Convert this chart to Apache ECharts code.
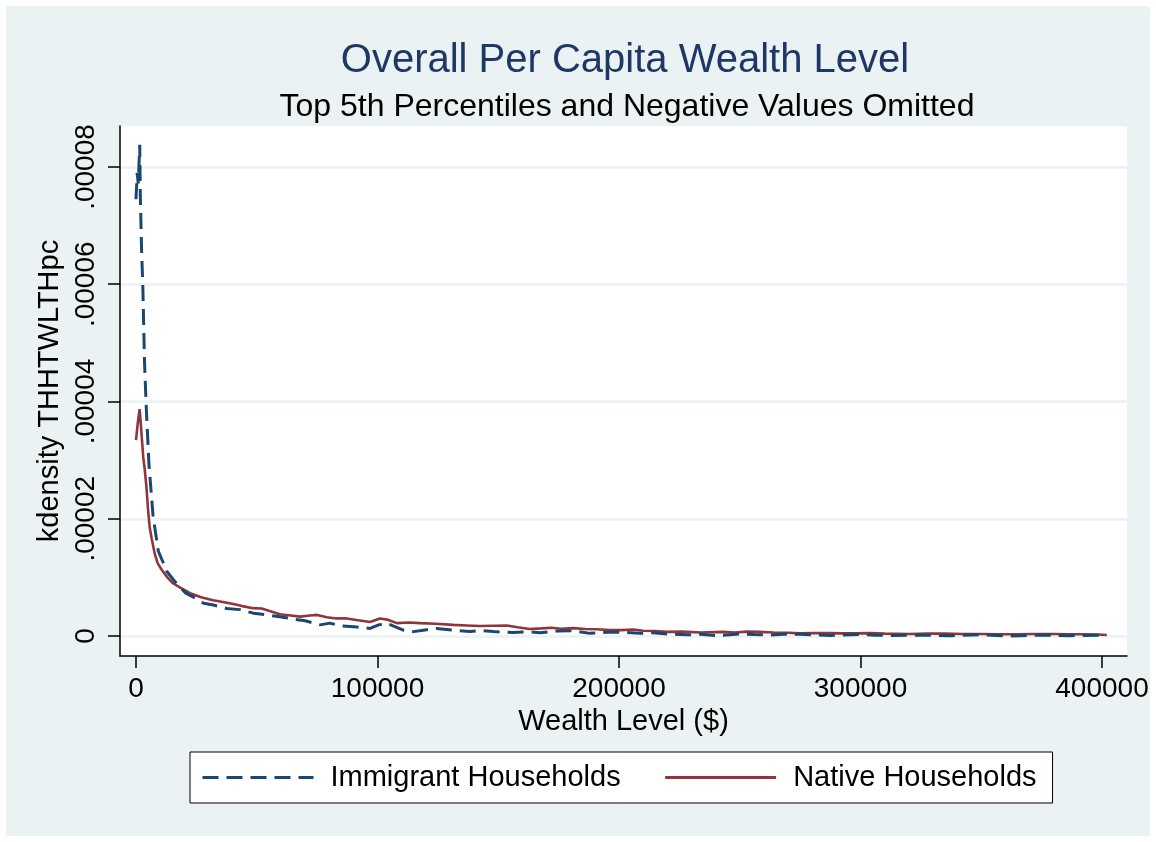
<!DOCTYPE html>
<html>
<head>
<meta charset="utf-8">
<script src="https://cdn.jsdelivr.net/npm/echarts@6/dist/echarts.min.js"></script>
<style>
  html, body { margin: 0; padding: 0; background: #ffffff; }
  #chart {
    width: 1156px; height: 842px;
    background: #EAF2F3;
    box-shadow: inset 0 0 0 6px #ffffff;
  }
</style>
</head>
<body>
<div id="chart"></div>
<script>
// Kernel density of per-capita wealth, immigrant vs native households
const immigrantWealth = [0, 500, 900, 1200, 1550, 1800, 2300, 2820, 3520, 4220, 5380, 7080, 9230, 12800, 16300, 20600, 24900, 28000, 32000, 37600, 43000, 48600, 54000, 59600, 65000, 70000, 76200, 80300, 85000, 90000, 96900, 100500, 103800, 110700, 114800, 119000, 124500, 131000, 138300, 143000, 148000, 156000, 163000, 167300, 174200, 181000, 188000, 197500, 203000, 208700, 214000, 219900, 228200, 233500, 240600, 250100, 256000, 262500, 268000, 275000, 287400, 299800, 306000, 312200, 324600, 337100, 349500, 361900, 374300, 386700, 399200, 401700];
const immigrantDensity = [7.45e-5, 7.9e-5, 7.72e-5, 8.0e-5, 8.38e-5, 7.5e-5, 6.6e-5, 5.98e-5, 4.68e-5, 3.92e-5, 2.92e-5, 2.04e-5, 1.45e-5, 1.10e-5, 9.2e-6, 7.3e-6, 6.4e-6, 5.6e-6, 5.3e-6, 4.7e-6, 4.5e-6, 3.9e-6, 3.6e-6, 3.3e-6, 2.9e-6, 2.6e-6, 1.9e-6, 2.2e-6, 1.7e-6, 1.6e-6, 1.3e-6, 1.9e-6, 2.2e-6, 1.0e-6, 0.75e-6, 1.0e-6, 1.3e-6, 1.0e-6, 0.75e-6, 0.95e-6, 0.75e-6, 0.6e-6, 0.7e-6, 0.55e-6, 0.85e-6, 0.9e-6, 0.45e-6, 0.7e-6, 0.6e-6, 0.45e-6, 0.55e-6, 0.35e-6, 0.2e-6, 0.3e-6, 0.05e-6, 0.35e-6, 0.25e-6, 0.15e-6, 0.3e-6, 0.3e-6, 0.1e-6, 0.25e-6, 0.15e-6, 0.1e-6, 0.15e-6, 0.05e-6, 0.2e-6, 0.0, 0.15e-6, 0.05e-6, 0.15e-6, 0.1e-6];

const nativeWealth = [0, 700, 1500, 2200, 3000, 3600, 4300, 5000, 5670, 6500, 7780, 9000, 10640, 13000, 15300, 18500, 22400, 27000, 31900, 36000, 40300, 44000, 48500, 52000, 55000, 59600, 64000, 68000, 72000, 75000, 79000, 83000, 87200, 92000, 96900, 101000, 104000, 108000, 113000, 117600, 124000, 131400, 137000, 142400, 148000, 153500, 158000, 163000, 168000, 172000, 176000, 181000, 186000, 191000, 196000, 201000, 206000, 210000, 215000, 220000, 226000, 234000, 243000, 248000, 253000, 258000, 264000, 270000, 275000, 281000, 287000, 292000, 298000, 304000, 310000, 320000, 328000, 335000, 342000, 350000, 357000, 365000, 372000, 380000, 386000, 392000, 398000, 402000];
const nativeDensity = [3.34e-5, 3.62e-5, 3.87e-5, 3.5e-5, 3.05e-5, 2.85e-5, 2.55e-5, 2.15e-5, 1.85e-5, 1.66e-5, 1.4e-5, 1.24e-5, 1.13e-5, 1.0e-5, 9.0e-6, 8.2e-6, 7.3e-6, 6.6e-6, 6.1e-6, 5.8e-6, 5.45e-6, 5.1e-6, 4.75e-6, 4.7e-6, 4.3e-6, 3.7e-6, 3.5e-6, 3.3e-6, 3.5e-6, 3.6e-6, 3.2e-6, 3.0e-6, 3.0e-6, 2.7e-6, 2.4e-6, 3.0e-6, 2.8e-6, 2.2e-6, 2.3e-6, 2.2e-6, 2.1e-6, 1.9e-6, 1.8e-6, 1.7e-6, 1.75e-6, 1.8e-6, 1.5e-6, 1.2e-6, 1.3e-6, 1.4e-6, 1.25e-6, 1.35e-6, 1.2e-6, 1.15e-6, 1.0e-6, 1.0e-6, 1.1e-6, 0.9e-6, 0.85e-6, 0.7e-6, 0.75e-6, 0.6e-6, 0.7e-6, 0.6e-6, 0.75e-6, 0.7e-6, 0.6e-6, 0.55e-6, 0.45e-6, 0.5e-6, 0.5e-6, 0.45e-6, 0.45e-6, 0.5e-6, 0.4e-6, 0.35e-6, 0.4e-6, 0.4e-6, 0.35e-6, 0.35e-6, 0.3e-6, 0.3e-6, 0.35e-6, 0.35e-6, 0.3e-6, 0.3e-6, 0.25e-6, 0.17e-6];

const xTicks = [0, 100000, 200000, 300000, 400000];
const xTickLabels = ['0', '100000', '200000', '300000', '400000'];
const yTicks = [0, 0.00002, 0.00004, 0.00006, 0.00008];
const yTickLabels = ['0', '.00002', '.00004', '.00006', '.00008'];

const seriesNames = ['Immigrant Households', 'Native Households'];

const FONT = '"Liberation Sans", Arial, Helvetica, sans-serif';
const NAVY = '#1A476F';
const TITLE_NAVY = '#1E3764';
const MAROON = '#90353B';

function pairs(xs, ys) {
  return xs.map((x, i) => [x, ys[i]]);
}
function tickLabel(values, labels) {
  return function (v) {
    for (let i = 0; i < values.length; i++) {
      if (Math.abs(values[i] - v) < Math.abs(values[values.length - 1]) * 1e-6) return labels[i];
    }
    return '';
  };
}

const chart = echarts.init(document.getElementById('chart'), null, { renderer: 'canvas' });

chart.setOption({
  animation: false,
  textStyle: { fontFamily: FONT },
  title: [
    {
      text: 'Overall Per Capita Wealth Level',
      left: 620, top: 36, textAlign: 'center',
      textStyle: { fontFamily: FONT, fontSize: 40, fontWeight: 'normal', color: TITLE_NAVY }
    },
    {
      text: 'Top 5th Percentiles and Negative Values Omitted',
      left: 622, top: 86, textAlign: 'center',
      textStyle: { fontFamily: FONT, fontSize: 32, fontWeight: 'normal', color: '#000000' }
    }
  ],
  grid: {
    left: 120, top: 126, width: 1007, height: 530,
    show: true, backgroundColor: '#ffffff', borderWidth: 0
  },
  xAxis: {
    type: 'value',
    min: -6625, max: 410350,
    name: 'Wealth Level ($)',
    nameLocation: 'middle',
    nameGap: 46,
    nameTextStyle: { fontFamily: FONT, fontSize: 29, color: '#000000' },
    axisLine: { show: true, onZero: false, lineStyle: { color: '#000000', width: 1.5 } },
    axisTick: { show: true, length: 12, customValues: xTicks, lineStyle: { color: '#000000', width: 1.5 } },
    axisLabel: {
      customValues: xTicks, margin: 19, fontFamily: FONT, fontSize: 28, color: '#000000',
      formatter: tickLabel(xTicks, xTickLabels)
    },
    splitLine: { show: false }
  },
  yAxis: {
    type: 'value',
    min: -3.41e-6, max: 8.699e-5,
    name: 'kdensity THHTWLTHpc',
    nameLocation: 'middle',
    nameGap: 53,
    nameTextStyle: { fontFamily: FONT, fontSize: 29, color: '#000000' },
    axisLine: { show: true, onZero: false, lineStyle: { color: '#000000', width: 1.5 } },
    axisTick: { show: true, length: 12, customValues: yTicks, lineStyle: { color: '#000000', width: 1.5 } },
    axisLabel: {
      customValues: yTicks, rotate: 90, margin: 20, fontFamily: FONT, fontSize: 28, color: '#000000',
      formatter: tickLabel(yTicks, yTickLabels)
    },
    splitLine: { show: true, lineStyle: { color: '#EAF2F3', width: 2.5 } }
  },
  legend: {
    data: seriesNames,
    left: 190, top: 752,
    orient: 'horizontal',
    backgroundColor: '#ffffff',
    borderColor: '#000000', borderWidth: 1, borderRadius: 0,
    padding: [11, 16, 11, 11],
    itemWidth: 111, itemHeight: 20, itemGap: 43,
    itemStyle: { opacity: 0, borderWidth: 0 },
    lineStyle: { width: 3 },
    textStyle: { fontFamily: FONT, fontSize: 29, color: '#000000', padding: [0, 0, 0, 12] }
  },
  series: [
    {
      name: seriesNames[0],
      type: 'line',
      data: pairs(immigrantWealth, immigrantDensity),
      showSymbol: false, symbol: 'none',
      color: NAVY,
      lineStyle: { color: NAVY, width: 3, type: [16, 8] },
      z: 3
    },
    {
      name: seriesNames[1],
      type: 'line',
      data: pairs(nativeWealth, nativeDensity),
      showSymbol: false, symbol: 'none',
      color: MAROON,
      lineStyle: { color: MAROON, width: 2.6, type: 'solid' },
      z: 2
    }
  ]
});
</script>
</body>
</html>
